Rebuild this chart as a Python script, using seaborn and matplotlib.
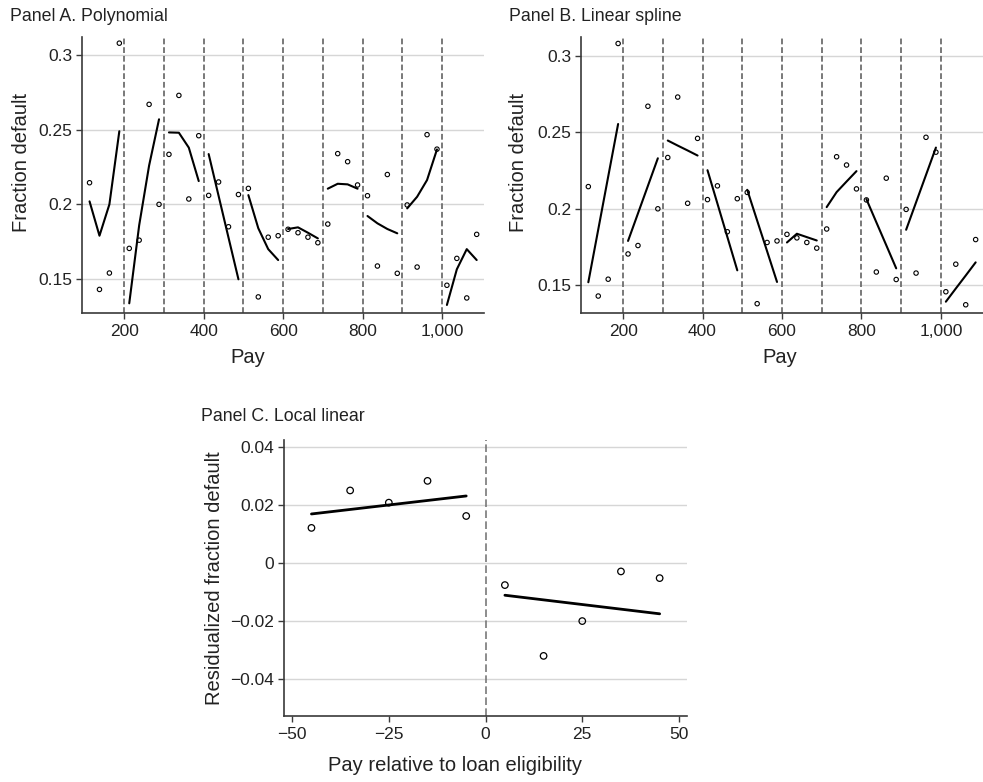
import pandas as pd
import matplotlib
matplotlib.use("Agg")
import matplotlib.pyplot as plt
import seaborn as sns

# Pay bins (centres of 25-wide bins) and observed fraction default
pay = [112.5, 137.5, 162.5, 187.5, 212.5, 237.5, 262.5, 287.5,
       312.5, 337.5, 362.5, 387.5, 412.5, 437.5, 462.5, 487.5,
       512.5, 537.5, 562.5, 587.5, 612.5, 637.5, 662.5, 687.5,
       712.5, 737.5, 762.5, 787.5, 812.5, 837.5, 862.5, 887.5,
       912.5, 937.5, 962.5, 987.5, 1012.5, 1037.5, 1062.5, 1087.5]
default_rate = [0.2145, 0.1430, 0.1540, 0.3080, 0.1705, 0.1760, 0.2670, 0.2000,
                0.2335, 0.2730, 0.2036, 0.2460, 0.2060, 0.2150, 0.1850, 0.2066,
                0.2107, 0.1380, 0.1780, 0.1790, 0.1833, 0.1810, 0.1780, 0.1743,
                0.1868, 0.2340, 0.2286, 0.2130, 0.2058, 0.1587, 0.2200, 0.1538,
                0.1996, 0.1580, 0.2467, 0.2370, 0.1458, 0.1638, 0.1373, 0.1799]

# Panel A: polynomial fit within each 100-wide segment
poly_fit = [0.2020, 0.1790, 0.2000, 0.2490, 0.1337, 0.1860, 0.2260, 0.2570,
            0.2482, 0.2480, 0.2380, 0.2156, 0.2337, 0.2057, 0.1777, 0.1498,
            0.2062, 0.1840, 0.1700, 0.1627, 0.1835, 0.1846, 0.1810, 0.1772,
            0.2105, 0.2138, 0.2134, 0.2105, 0.1922, 0.1873, 0.1835, 0.1806,
            0.1973, 0.2051, 0.2163, 0.2368, 0.1326, 0.1565, 0.1700, 0.1627]

# Panel B: linear spline fit
spline_fit = [0.1520, 0.1865, 0.2210, 0.2554, 0.1790, 0.1970, 0.2150, 0.2330,
              0.2446, 0.2413, 0.2381, 0.2348, 0.2252, 0.2034, 0.1816, 0.1598,
              0.2124, 0.1923, 0.1723, 0.1522, 0.1780, 0.1837, 0.1815, 0.1793,
              0.2011, 0.2109, 0.2178, 0.2246, 0.2063, 0.1912, 0.1762, 0.1611,
              0.1863, 0.2042, 0.2221, 0.2400, 0.1393, 0.1479, 0.1564, 0.1650]

cutoffs = [200, 300, 400, 500, 600, 700, 800, 900, 1000]
pay_ticks = [200, 400, 600, 800, 1000]
pay_tick_labels = ["200", "400", "600", "800", "1,000"]
frac_ticks = [0.15, 0.2, 0.25, 0.3]
frac_tick_labels = ["0.15", "0.2", "0.25", "0.3"]

# Panel C: local linear around eligibility threshold
rel_pay = [-45, -35, -25, -15, -5, 5, 15, 25, 35, 45]
resid_default = [0.0120, 0.0249, 0.0207, 0.0282, 0.0161,
                 -0.0077, -0.0321, -0.0201, -0.0030, -0.0053]
side = ["below", "below", "below", "below", "below",
        "above", "above", "above", "above", "above"]
fit_x = [-45, -5, 5, 45]
fit_y = [0.0168, 0.0230, -0.0112, -0.0176]
fit_side = ["below", "below", "above", "above"]
rel_ticks = [-50, -25, 0, 25, 50]
rel_tick_labels = ["\u221250", "\u221225", "0", "25", "50"]
resid_ticks = [-0.04, -0.02, 0, 0.02, 0.04]
resid_tick_labels = ["\u22120.04", "\u22120.02", "0", "0.02", "0.04"]

sns.set_theme(style="white")
plt.rcParams["font.family"] = ["Liberation Sans", "DejaVu Sans"]

SPINE = "#3a3a3a"
GRID = "#d6d6d6"
DASH = "#6e6e6e"

df = pd.DataFrame({"pay": pay, "default": default_rate,
                   "poly": poly_fit, "spline": spline_fit})
df["segment"] = (df["pay"] // 100).astype(int)

df_c = pd.DataFrame({"rel": rel_pay, "resid": resid_default, "side": side})
fit_c = pd.DataFrame({"rel": fit_x, "fit": fit_y, "side": fit_side})

fig = plt.figure(figsize=(9.83, 7.82), dpi=100)
ax_a = fig.add_axes([0.0837, 0.6001, 0.4087, 0.3529])
ax_b = fig.add_axes([0.5911, 0.6001, 0.4089, 0.3529])
ax_c = fig.add_axes([0.2889, 0.0848, 0.4097, 0.3526])


def base_style(ax):
    sns.despine(ax=ax)
    for s in ["left", "bottom"]:
        ax.spines[s].set_color(SPINE)
        ax.spines[s].set_linewidth(1.2)
    ax.grid(False)
    ax.grid(axis="y", color=GRID, lw=1.0)
    ax.set_axisbelow(True)
    ax.tick_params(axis="both", direction="out", length=4, width=1,
                   color=SPINE, labelsize=12.5, labelcolor="#222222",
                   left=True, bottom=True)
    ax.tick_params(axis="y", pad=3)
    ax.tick_params(axis="x", pad=4)


def pay_panel(ax, fit_col, title, ylim, ylab_x, xlab_x):
    for c in cutoffs:
        ax.axvline(c, color=DASH, lw=1.3, dashes=(3.2, 1.6), zorder=1)
    sns.lineplot(data=df, x="pay", y=fit_col, units="segment", estimator=None,
                 color="black", lw=1.5, ax=ax, zorder=3)
    sns.scatterplot(data=df, x="pay", y="default", marker="o", s=10,
                    facecolor="none", edgecolor="black", linewidth=0.8,
                    ax=ax, zorder=4)
    ax.set_xlim(94.2, 1106)
    ax.set_ylim(*ylim)
    ax.set_xticks(pay_ticks)
    ax.set_xticklabels(pay_tick_labels)
    ax.set_yticks(frac_ticks)
    ax.set_yticklabels(frac_tick_labels)
    base_style(ax)
    ax.set_xlabel("Pay", fontsize=14.5, color="#222222")
    ax.set_ylabel("Fraction default", fontsize=14.5, color="#222222")
    ax.xaxis.set_label_coords(xlab_x, -0.128)
    ax.yaxis.set_label_coords(ylab_x, 0.546)
    ax.set_title(title, loc="left", x=-0.18, y=1.058, pad=0,
                 fontsize=12.8, color="#222222")


pay_panel(ax_a, "poly", "Panel A. Polynomial", (0.1274, 0.3123), -0.128, 0.4125)
pay_panel(ax_b, "spline", "Panel B. Linear spline", (0.1321, 0.3124), -0.132, 0.495)

# Panel C
ax_c.axvline(0, color=DASH, lw=1.1, dashes=(5, 2.2), zorder=1)
sns.lineplot(data=fit_c, x="rel", y="fit", units="side", estimator=None,
             color="black", lw=2.0, ax=ax_c, zorder=3)
sns.scatterplot(data=df_c, x="rel", y="resid", marker="o", s=22,
                facecolor="none", edgecolor="black", linewidth=0.9,
                ax=ax_c, zorder=4)
ax_c.set_xlim(-52.1, 52.0)
ax_c.set_ylim(-0.0527, 0.0423)
ax_c.set_xticks(rel_ticks)
ax_c.set_xticklabels(rel_tick_labels)
ax_c.set_yticks(resid_ticks)
ax_c.set_yticklabels(resid_tick_labels)
base_style(ax_c)
ax_c.set_xlabel("Pay relative to loan eligibility", fontsize=14.5, color="#222222")
ax_c.set_ylabel("Residualized fraction default", fontsize=14.5, color="#222222")
ax_c.xaxis.set_label_coords(0.4246, -0.146)
ax_c.yaxis.set_label_coords(-0.149, 0.5)
ax_c.set_title("Panel C. Local linear", loc="left", x=-0.207, y=1.070, pad=0,
               fontsize=12.8, color="#222222")

fig.savefig("out.png", dpi=100)
